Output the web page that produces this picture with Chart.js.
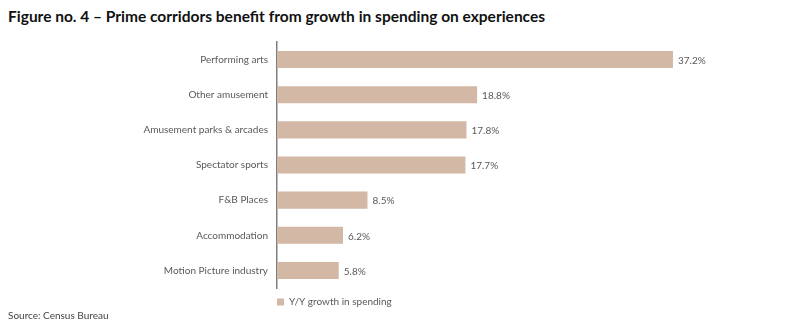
<!DOCTYPE html>
<html>
<head>
<meta charset="utf-8">
<script src="https://cdn.jsdelivr.net/npm/chart.js@4/dist/chart.umd.min.js"></script>
<style>
  body { margin: 0; background: #fff; font-family: "Lato", sans-serif; }
  #wrap { position: relative; width: 790px; height: 325px; }
  #titulo { position: absolute; left: 8px; top: 7px; font-size: 15.5px; font-weight: bold; color: #111; white-space: nowrap; }
  #fuente { position: absolute; left: 8px; top: 309px; font-size: 10px; color: #444; }
  #lienzo { position: absolute; left: 0; top: 27px; }
</style>
</head>
<body>
<div id="wrap">
  <div id="titulo">Figure no. 4 – Prime corridors benefit from growth in spending on experiences</div>
  <canvas id="lienzo" width="790" height="296"></canvas>
  <div id="fuente">Source: Census Bureau</div>
</div>
<script>
// Datos de la gráfica
const categorias = ["Performing arts", "Other amusement", "Amusement parks & arcades", "Spectator sports", "F&B Places", "Accommodation", "Motion Picture industry"];
const crecimiento = [37.2, 18.8, 17.8, 17.7, 8.5, 6.2, 5.8];
const nombreSerie = "Y/Y growth in spending";

const colorBarra = "#d3b8a6";
const colorTexto = "#595959";

// Plugin simple para escribir el valor al final de cada barra
const etiquetasValor = {
    id: "etiquetasValor",
    afterDatasetsDraw(chart) {
        const ctx = chart.ctx;
        const meta = chart.getDatasetMeta(0);
        ctx.save();
        ctx.font = "10px Lato";
        ctx.fillStyle = colorTexto;
        ctx.textAlign = "left";
        ctx.textBaseline = "middle";
        meta.data.forEach(function(barra, i) {
            ctx.fillText(crecimiento[i].toFixed(1) + "%", barra.x + 5, barra.y + 1);
        });
        ctx.restore();
    }
};

const chart = new Chart(document.getElementById("lienzo"), {
    type: "bar",
    data: {
        labels: categorias,
        datasets: [{
            label: nombreSerie,
            data: crecimiento,
            backgroundColor: colorBarra,
            borderWidth: 0,
            barPercentage: 0.97,
            categoryPercentage: 0.5
        }]
    },
    options: {
        indexAxis: "y",
        responsive: false,
        animation: false,
        layout: { padding: { top: 6, right: 34, left: 0, bottom: 6 } },
        scales: {
            x: {
                display: true, min: 0, max: 45,
                afterFit: function(escala) { escala.height = 9; },
                grid: { display: false },
                border: { display: false },
                ticks: { display: false }
            },
            y: {
                afterFit: function(escala) { escala.width = 277; },
                grid: { display: false, drawTicks: false },
                border: { display: true, color: "#7f7f7f", width: 1.5 },
                ticks: { color: colorTexto, font: { family: "Lato", size: 10 }, padding: 9 }
            }
        },
        plugins: {
            legend: {
                position: "bottom",
                align: "start",
                fullSize: false,
                labels: { boxWidth: 7, boxHeight: 7, color: colorTexto, font: { family: "Lato", size: 10 }, padding: 0 }
            },
            tooltip: { enabled: false }
        }
    },
    plugins: [etiquetasValor]
});
</script>
</body>
</html>
